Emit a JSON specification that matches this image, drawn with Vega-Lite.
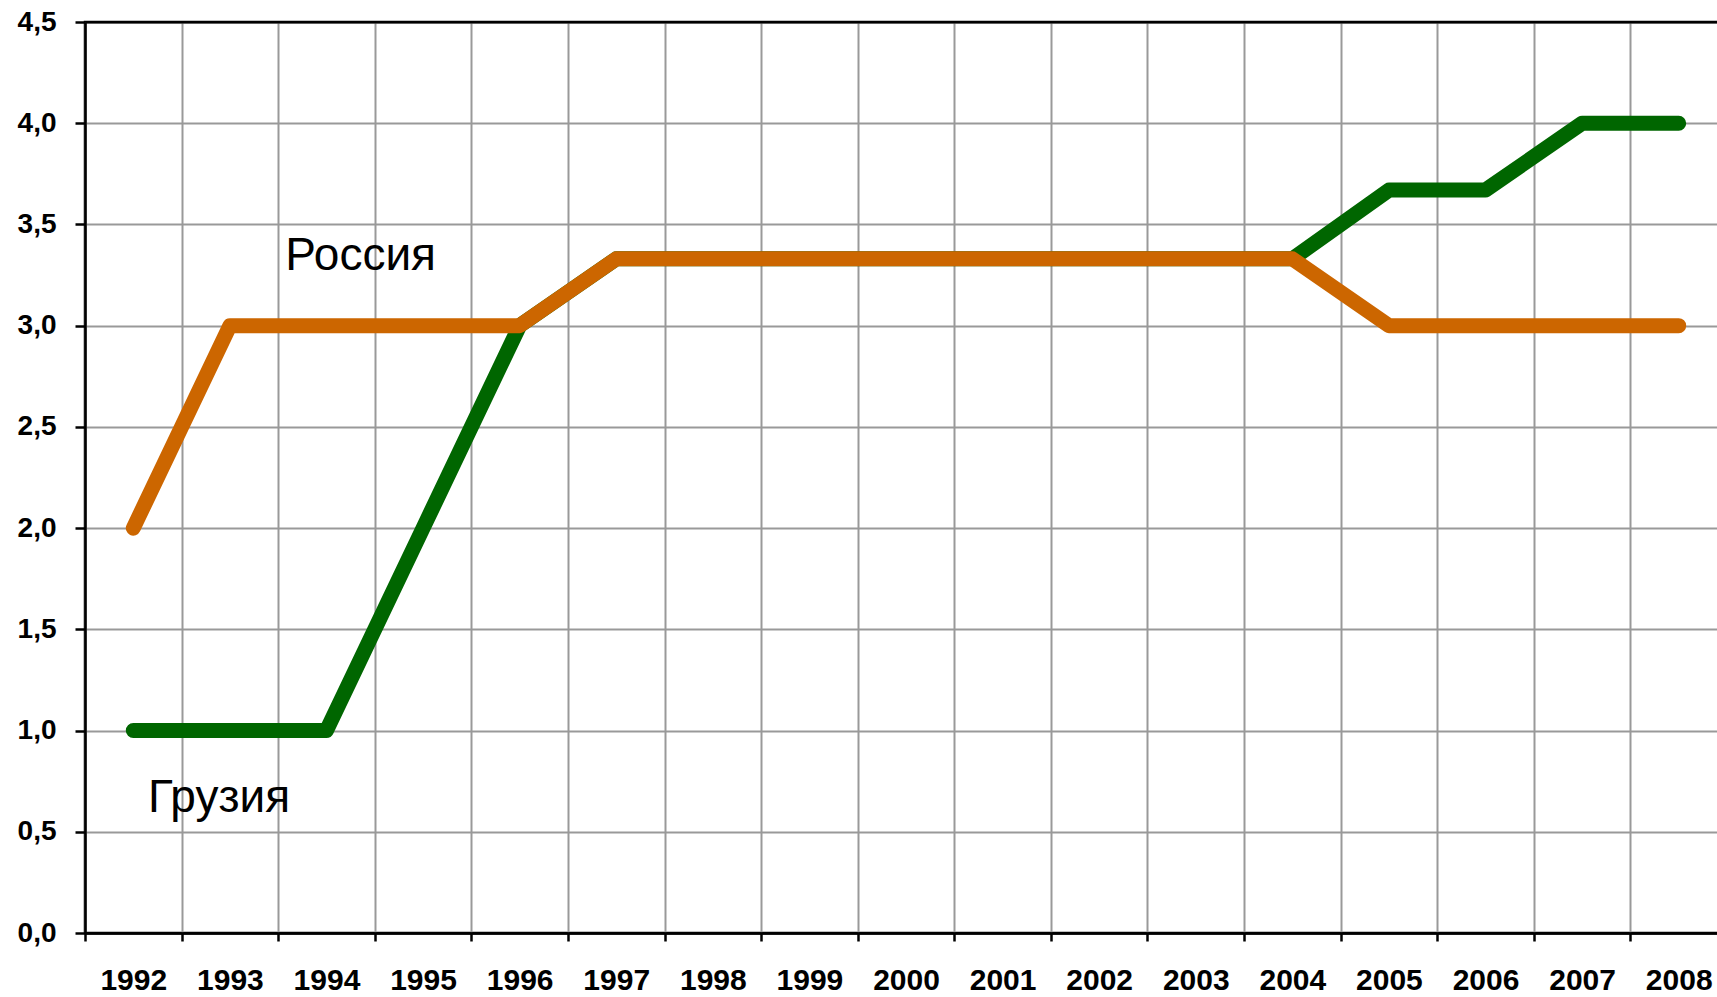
{
  "$schema": "https://vega.github.io/schema/vega-lite/v6.json",
  "width": 1642,
  "height": 911,
  "autosize": {"type": "none"},
  "padding": {"left": 85, "top": 22, "right": 0, "bottom": 64},
  "background": "white",
  "config": {
    "view": {"stroke": "black", "strokeWidth": 2.5},
    "font": "Liberation Sans"
  },
  "datasets": {
    "series": [
      {"country": "Россия", "year": "1992", "value": 2.0},
      {"country": "Россия", "year": "1993", "value": 3.0},
      {"country": "Россия", "year": "1994", "value": 3.0},
      {"country": "Россия", "year": "1995", "value": 3.0},
      {"country": "Россия", "year": "1996", "value": 3.0},
      {"country": "Россия", "year": "1997", "value": 3.33},
      {"country": "Россия", "year": "1998", "value": 3.33},
      {"country": "Россия", "year": "1999", "value": 3.33},
      {"country": "Россия", "year": "2000", "value": 3.33},
      {"country": "Россия", "year": "2001", "value": 3.33},
      {"country": "Россия", "year": "2002", "value": 3.33},
      {"country": "Россия", "year": "2003", "value": 3.33},
      {"country": "Россия", "year": "2004", "value": 3.33},
      {"country": "Россия", "year": "2005", "value": 3.0},
      {"country": "Россия", "year": "2006", "value": 3.0},
      {"country": "Россия", "year": "2007", "value": 3.0},
      {"country": "Россия", "year": "2008", "value": 3.0},
      {"country": "Грузия", "year": "1992", "value": 1.0},
      {"country": "Грузия", "year": "1993", "value": 1.0},
      {"country": "Грузия", "year": "1994", "value": 1.0},
      {"country": "Грузия", "year": "1995", "value": 2.0},
      {"country": "Грузия", "year": "1996", "value": 3.0},
      {"country": "Грузия", "year": "1997", "value": 3.33},
      {"country": "Грузия", "year": "1998", "value": 3.33},
      {"country": "Грузия", "year": "1999", "value": 3.33},
      {"country": "Грузия", "year": "2000", "value": 3.33},
      {"country": "Грузия", "year": "2001", "value": 3.33},
      {"country": "Грузия", "year": "2002", "value": 3.33},
      {"country": "Грузия", "year": "2003", "value": 3.33},
      {"country": "Грузия", "year": "2004", "value": 3.33},
      {"country": "Грузия", "year": "2005", "value": 3.67},
      {"country": "Грузия", "year": "2006", "value": 3.67},
      {"country": "Грузия", "year": "2007", "value": 4.0},
      {"country": "Грузия", "year": "2008", "value": 4.0}
    ],
    "labels": [
      {"label": "Россия", "year": "1994", "value": 3.276, "offset": 7},
      {"label": "Грузия", "year": "1992", "value": 0.598, "offset": 63}
    ]
  },
  "encoding": {
    "x": {
      "field": "year",
      "type": "ordinal",
      "scale": {
        "type": "band",
        "paddingInner": 0,
        "paddingOuter": 0,
        "domain": ["1992","1993","1994","1995","1996","1997","1998","1999","2000","2001","2002","2003","2004","2005","2006","2007","2008"]
      },
      "axis": {
        "title": null,
        "labelAngle": 0,
        "tickBand": "extent",
        "grid": true,
        "gridColor": "#999999",
        "gridWidth": 2,
        "domainColor": "black",
        "domainWidth": 2.5,
        "tickColor": "black",
        "tickWidth": 2.5,
        "tickSize": 8,
        "labelFont": "Liberation Sans",
        "labelFontSize": 30,
        "labelFontWeight": "bold",
        "labelColor": "black",
        "labelPadding": 24
      }
    },
    "y": {
      "field": "value",
      "type": "quantitative",
      "scale": {"domain": [0, 4.5], "nice": false, "zero": true},
      "axis": {
        "title": null,
        "values": [0, 0.5, 1, 1.5, 2, 2.5, 3, 3.5, 4, 4.5],
        "labelExpr": "replace(format(datum.value, '.1f'), '.', ',')",
        "grid": true,
        "gridColor": {"condition": {"test": "datum.value == 4.5 || datum.value == 0", "value": "black"}, "value": "#999999"},
        "gridWidth": 2,
        "domainColor": "black",
        "domainWidth": 2.5,
        "tickColor": "black",
        "tickWidth": 2.5,
        "tickSize": 10,
        "labelFont": "Liberation Sans",
        "labelFontSize": 28,
        "labelFontWeight": "bold",
        "labelColor": "black",
        "labelPadding": 19
      }
    }
  },
  "layer": [
    {
      "data": {"name": "series"},
      "transform": [{"filter": "datum.country == 'Грузия'"}],
      "mark": {"type": "line", "color": "#006600", "strokeWidth": 15, "strokeCap": "round", "strokeJoin": "round"}
    },
    {
      "data": {"name": "series"},
      "transform": [{"filter": "datum.country == 'Россия'"}],
      "mark": {"type": "line", "color": "#CC6600", "strokeWidth": 15, "strokeCap": "round", "strokeJoin": "round"}
    },
    {
      "data": {"name": "labels"},
      "mark": {"type": "text", "align": "left", "baseline": "alphabetic", "font": "Liberation Sans", "fontSize": 46, "color": "black"},
      "encoding": {
        "text": {"field": "label"},
        "xOffset": {"field": "offset", "type": "quantitative", "scale": null}
      }
    }
  ]
}
